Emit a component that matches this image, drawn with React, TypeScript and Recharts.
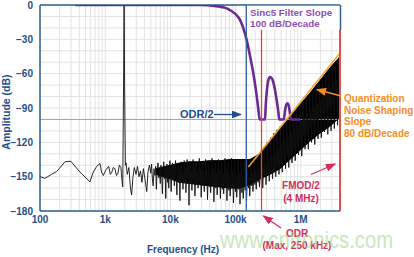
import React from "react";
import {
  ComposedChart,
  Line,
  Area,
  XAxis,
  YAxis,
  CartesianGrid,
  ReferenceLine,
} from "recharts";

// measured output spectrum: [frequency Hz, amplitude dB]
const spectrum: [number, number][] = [
  [100, -150], [119, -151.5], [150, -148], [180, -145.5], [242, -137], [296, -136.5],
  [410, -146], [584, -154.5], [656, -146], [741, -141], [833, -138.5], [880, -146],
  [935, -149], [1030, -144], [1130, -141], [1200, -148], [1255, -146.5], [1330, -142],
  [1410, -143], [1490, -149], [1570, -147], [1650, -140], [1745, -142], [1800, -152],
  [1860, -159], [1920, -60], [1950, 0], [1985, -70], [2040, -140], [2090, -138],
  [2180, -148], [2310, -142], [2440, -160], [2540, -166], [2670, -150], [2800, -142],
  [2970, -148], [3130, -141], [3300, -150], [3480, -145], [3660, -155], [3860, -143],
  [4070, -152], [4340, -163], [4530, -146], [4770, -140],
  [5000, -147], [5150, -139], [5300, -152], [5450, -158], [5600, -143], [5800, -149],
  [5950, -141], [6100, -161], [6250, -146], [6450, -138], [6650, -151], [6800, -144],
  [7000, -156], [7150, -140], [7350, -148], [7550, -165], [7700, -147], [7900, -137],
  [8100, -152], [8300, -143], [8500, -169], [8650, -149], [8850, -139], [9050, -155],
  [9250, -142], [9450, -160], [9600, -146], [9850, -136], [10100, -150], [10300, -163],
  [10500, -145], [10800, -138], [11000, -153], [11300, -141], [11500, -158], [11800, -147],
  [12000, -136], [12300, -152], [12600, -166], [12850, -148], [13100, -139], [13400, -155],
  [13700, -143], [14000, -171], [14250, -150], [14600, -137], [14900, -152], [15200, -145],
  [15600, -161], [15900, -149], [16300, -136], [16600, -154], [17000, -143], [17300, -164],
  [17700, -147], [18100, -135], [18500, -151], [18900, -141], [19300, -175], [19600, -150],
  [20000, -138], [20500, -156], [20900, -144], [21400, -162], [21800, -148], [22300, -135],
  [22800, -153], [23300, -142], [23800, -167], [24300, -150], [24900, -137], [25500, -157],
  [26000, -145], [26600, -160], [27200, -149], [27800, -134], [28400, -155], [29000, -143],
  [29700, -168], [30300, -151], [31000, -138], [31700, -158], [32400, -146], [33100, -163],
  [33900, -150], [34700, -135], [35500, -156], [36300, -144], [37100, -170], [37900, -152],
  [38800, -139], [39700, -159], [40600, -147], [41500, -164], [42500, -151], [43500, -134],
  [44500, -157], [45500, -143], [46500, -172], [47600, -152], [48700, -138], [49800, -160],
  [51000, -146], [52200, -166], [53400, -153], [54600, -135], [55900, -158], [57200, -144],
  [58500, -169], [59900, -152], [61300, -137], [62700, -161], [64200, -147], [65700, -165],
  [67200, -154], [68800, -134], [70400, -159], [72000, -144], [73700, -171], [75400, -153],
  [77200, -137], [79000, -162], [80800, -148], [82700, -167], [84600, -155], [86600, -134],
  [88600, -160], [90700, -145], [92800, -173], [95000, -154], [97200, -136], [99500, -163],
  [101800, -149], [104200, -168], [106600, -156], [109100, -135], [111600, -161], [114200, -146],
  [116900, -174], [119600, -155], [122400, -137], [125200, -164], [128100, -150], [131100, -169],
  [134200, -157], [137300, -136], [140500, -162], [143800, -148], [147100, -171], [150500, -156],
  [154000, -137], [157600, -160], [161300, -150], [165000, -167], [168800, -155], [172700, -136],
  [176700, -158], [180800, -147], [185000, -163], [189300, -152], [193700, -134], [198200, -157],
  [202800, -145], [207500, -161], [212300, -150], [217200, -131], [222200, -155], [227400, -144],
  [232700, -159], [238100, -149], [243600, -128], [249300, -153], [255100, -142], [261000, -160],
  [267100, -147], [273300, -124], [279600, -150], [286100, -139], [292800, -157], [299600, -145],
  [306500, -120], [313600, -148], [320900, -136], [328400, -154], [336000, -142], [343800, -116],
  [351800, -147], [360000, -133], [368300, -152], [376900, -140], [385700, -112], [394600, -145],
  [403800, -130], [413200, -150], [422800, -137], [432600, -109], [442700, -141], [453000, -126],
  [463500, -148], [474300, -133], [485300, -106], [496600, -138], [508100, -122], [519900, -146],
  [532000, -129], [544400, -103], [557000, -135], [570000, -118], [583200, -143], [596800, -125],
  [610700, -100], [624900, -132], [639400, -115], [654300, -142], [669500, -121], [685000, -97],
  [701000, -128], [717300, -111], [734000, -138], [751000, -118], [768500, -94], [786400, -125],
  [804700, -108], [823400, -136], [842500, -114], [862100, -91], [882200, -121], [902700, -105],
  [923700, -131], [945200, -111], [967200, -88], [989700, -118], [1012700, -101], [1036300, -132],
  [1060400, -107], [1085000, -85], [1110300, -114], [1136100, -98], [1162500, -126], [1189600, -104],
  [1217300, -82], [1245600, -111], [1274600, -95], [1304200, -126], [1334600, -100], [1365600, -79],
  [1397400, -108], [1429900, -92], [1463200, -120], [1497200, -97], [1532000, -76], [1567700, -105],
  [1604200, -89], [1641500, -122], [1679700, -94], [1718800, -73], [1758800, -101], [1799700, -86],
  [1841600, -117], [1884400, -91], [1928300, -70], [1973200, -98], [2019100, -83], [2066100, -116],
  [2114200, -88], [2163400, -67], [2213700, -95], [2265200, -80], [2318000, -111], [2372000, -85],
  [2427200, -63], [2483700, -92], [2541500, -77], [2600600, -113], [2661100, -82], [2723100, -59],
  [2786500, -89], [2851400, -73], [2917700, -110], [2985600, -79], [3055100, -56], [3126200, -86],
  [3198900, -70], [3273400, -108], [3349600, -76], [3427500, -52], [3507300, -83], [3588900, -66],
  [3672500, -105], [3758000, -72], [3845400, -48], [3934900, -80], [4000000, -90],
];

// dense noise floor envelope: [frequency Hz, top dB, bottom dB]
const noiseBand: [number, number, number][] = [
  [6000, -143, -148], [10000, -140, -152], [14000, -138, -155], [20000, -137, -156],
  [28000, -137, -157], [40000, -136, -158], [58000, -136, -159], [82000, -135, -160],
  [117000, -135, -160], [166000, -135, -157], [237000, -130, -152], [337000, -119, -148],
  [480000, -108, -143], [682000, -98, -135], [973000, -87, -127], [1380000, -77, -119],
  [1970000, -66, -112], [2800000, -55, -106], [4000000, -45, -98],
];

// sinc5 filter response, floored at -100 dB
const sinc5: [number, number][] = [
  [350, 0], [28000, 0], [51000, -1], [70000, -2.5], [82000, -4.4], [100000, -8],
  [117000, -13], [131000, -20], [148000, -30.5], [166000, -44], [187000, -59.5],
  [206000, -75], [224000, -91.5], [234000, -100], [283000, -100], [290000, -88],
  [303000, -74], [317000, -66], [339000, -63], [367000, -65], [396000, -72],
  [427000, -83], [452000, -93], [468000, -100], [548000, -100], [575000, -92],
  [600000, -87], [627000, -86], [655000, -88], [680000, -94], [705000, -100],
  [975000, -100],
];

// quantization noise shaping slope
const shapingSlope: [number, number][] = [
  [157000, -141.5],
  [4000000, -42],
];

const odrHalfHz = 146000;
const odrHz = 250000;
const fmodHalfHz = 4000000;

const xTicks = [1, 2, 3, 4, 5, 6].flatMap((d) =>
  [1, 2, 3, 4, 5, 6, 7, 8, 9]
    .map((m) => m * Math.pow(10, d + 1))
    .filter((v) => v >= 100 && v <= 4000000)
);
const xLabels: Record<number, string> = {
  100: "100",
  1000: "1k",
  10000: "10k",
  100000: "100k",
  1000000: "1M",
};
const yTicks = [0, -10, -20, -30, -40, -50, -60, -70, -80, -90, -100, -110, -120, -130, -140, -150, -160, -170, -180];

const spectrumData = spectrum.map(([hz, db]) => ({ hz, db }));
const bandData = noiseBand.map(([hz, top, bottom]) => ({ hz, range: [bottom, top] }));
const sincData = sinc5.map(([hz, db]) => ({ hz, db }));
const slopeData = shapingSlope.map(([hz, db]) => ({ hz, db }));

const FONT = "'Liberation Sans', Arial, sans-serif";
const NAVY = "#1f4f8c";
const FRAME = "#2f5f8f";
const PURPLE = "#6a2c90";
const PURPLE_TEXT = "#8d4fb4";
const ORANGE = "#f5a21c";
const ORANGE_TEXT = "#f78d1e";
const CRIMSON = "#d42d5c";

function Annotations() {
  return (
    <svg
      width={414}
      height={257}
      style={{ position: "absolute", left: 0, top: 0, pointerEvents: "none" }}
      fontFamily={FONT}
      fontWeight="bold"
    >
      <defs>
        <marker id="ahNavy" markerWidth="8" markerHeight="6" refX="7" refY="3" orient="auto">
          <path d="M0,0 L8,3 L0,6 z" fill={NAVY} />
        </marker>
        <marker id="ahOrange" markerWidth="8" markerHeight="6" refX="7" refY="3" orient="auto">
          <path d="M0,0 L8,3 L0,6 z" fill={ORANGE_TEXT} />
        </marker>
        <marker id="ahCrimson" markerWidth="8" markerHeight="6" refX="7" refY="3" orient="auto">
          <path d="M0,0 L8,3 L0,6 z" fill={CRIMSON} />
        </marker>
      </defs>

      {/* sinc5 label box */}
      <rect x={247} y={5.8} width={93} height={24} fill="#fff" />
      <line x1={340.5} y1={5} x2={340.5} y2={30} stroke={FRAME} strokeWidth={1.5} />
      <text x={250} y={15.5} fontSize={9.8} fill={PURPLE_TEXT}>Sinc5 Filter Slope</text>
      <text x={250} y={27} fontSize={9.8} fill={PURPLE_TEXT}>100 dB/Decade</text>

      <text x={180} y={117.5} fontSize={11} fill={NAVY}>ODR/2</text>
      <line x1={214} y1={114.5} x2={241} y2={114.5} stroke={NAVY} strokeWidth={1.3} markerEnd="url(#ahNavy)" />

      <g fontSize={10} fill={ORANGE_TEXT}>
        <text x={344} y={102}>Quantization</text>
        <text x={344} y={113.5}>Noise Shaping</text>
        <text x={344} y={125}>Slope</text>
        <text x={344} y={136.5}>80 dB/Decade</text>
      </g>
      <line x1={341} y1={96} x2={317} y2={89.5} stroke={ORANGE_TEXT} strokeWidth={1.3} markerEnd="url(#ahOrange)" />

      <g fontSize={10} fill={CRIMSON} textAnchor="middle">
        <text x={301} y={189}>FMOD/2</text>
        <text x={301} y={202}>(4 MHz)</text>
        <text x={297} y={237}>ODR</text>
        <text x={297} y={249}>(Max, 250 kHz)</text>
      </g>
      <line x1={311} y1={174.5} x2={335} y2={164} stroke={CRIMSON} strokeWidth={1.3} markerEnd="url(#ahCrimson)" />
      <line x1={281} y1={228} x2={263.5} y2={216} stroke={CRIMSON} strokeWidth={1.3} markerEnd="url(#ahCrimson)" />

      <text x={10} y={112} fontSize={10.5} fill={NAVY} textAnchor="middle" transform="rotate(-90 10 112)">
        Amplitude (dB)
      </text>
      <text x={183} y={253} fontSize={10} fill={NAVY} textAnchor="middle">Frequency (Hz)</text>

      <text
        x={220}
        y={248}
        fontSize={24}
        fontWeight="normal"
        fill="#9ed486"
        opacity={0.55}
        textLength={173}
        lengthAdjust="spacingAndGlyphs"
      >
        www.cntronics.com
      </text>
    </svg>
  );
}

export default function App() {
  return (
    <div style={{ position: "absolute", left: 0, top: 0, width: 414, height: 257, background: "#fff", fontFamily: FONT }}>
      <ComposedChart width={414} height={257} margin={{ top: 5, right: 74, bottom: 16, left: 0 }}>
        <CartesianGrid stroke="#e2e2e2" strokeWidth={1} />
        <XAxis
          dataKey="hz"
          type="number"
          scale="log"
          domain={[100, 4000000]}
          allowDataOverflow
          ticks={xTicks}
          interval={0}
          tickFormatter={(v: number) => xLabels[v] ?? ""}
          tickLine={false}
          tickSize={0}
          tickMargin={5}
          height={30}
          axisLine={{ stroke: FRAME, strokeWidth: 1.5 }}
          tick={{ fill: NAVY, fontSize: 10, fontWeight: "bold", fontFamily: FONT }}
        />
        <YAxis
          type="number"
          domain={[-180, 0]}
          allowDataOverflow
          ticks={yTicks}
          interval={0}
          tickFormatter={(v: number) => (v % 30 === 0 ? (v < 0 ? "\u2212" + Math.abs(v) : String(v)) : "")}
          tickLine={false}
          tickSize={0}
          tickMargin={7}
          width={40}
          axisLine={{ stroke: FRAME, strokeWidth: 1.5 }}
          tick={{ fill: NAVY, fontSize: 10, fontWeight: "bold", fontFamily: FONT }}
        />
        <ReferenceLine y={-100} stroke="#a3a3a3" strokeWidth={1} />
        <ReferenceLine y={0} stroke={FRAME} strokeWidth={1.5} />
        <Area
          data={bandData}
          dataKey="range"
          type="linear"
          stroke="#000"
          strokeWidth={1}
          fill="#000"
          fillOpacity={1}
          isAnimationActive={false}
          dot={false}
          activeDot={false}
        />
        <Line
          data={spectrumData}
          dataKey="db"
          type="linear"
          stroke="#111"
          strokeWidth={0.9}
          dot={false}
          activeDot={false}
          isAnimationActive={false}
        />
        <Line
          data={sincData}
          dataKey="db"
          type="monotone"
          stroke={PURPLE}
          strokeWidth={2.6}
          dot={false}
          activeDot={false}
          isAnimationActive={false}
        />
        <Line
          data={slopeData}
          dataKey="db"
          type="linear"
          stroke={ORANGE}
          strokeWidth={1.5}
          dot={false}
          activeDot={false}
          isAnimationActive={false}
        />
        <ReferenceLine x={odrHalfHz} stroke="#2d5fa3" strokeWidth={1.3} />
        <ReferenceLine x={odrHz} stroke="#e8413c" strokeWidth={1.3} />
        <ReferenceLine x={fmodHalfHz} stroke="#e0504e" strokeWidth={2} />
      </ComposedChart>
      <Annotations />
    </div>
  );
}
